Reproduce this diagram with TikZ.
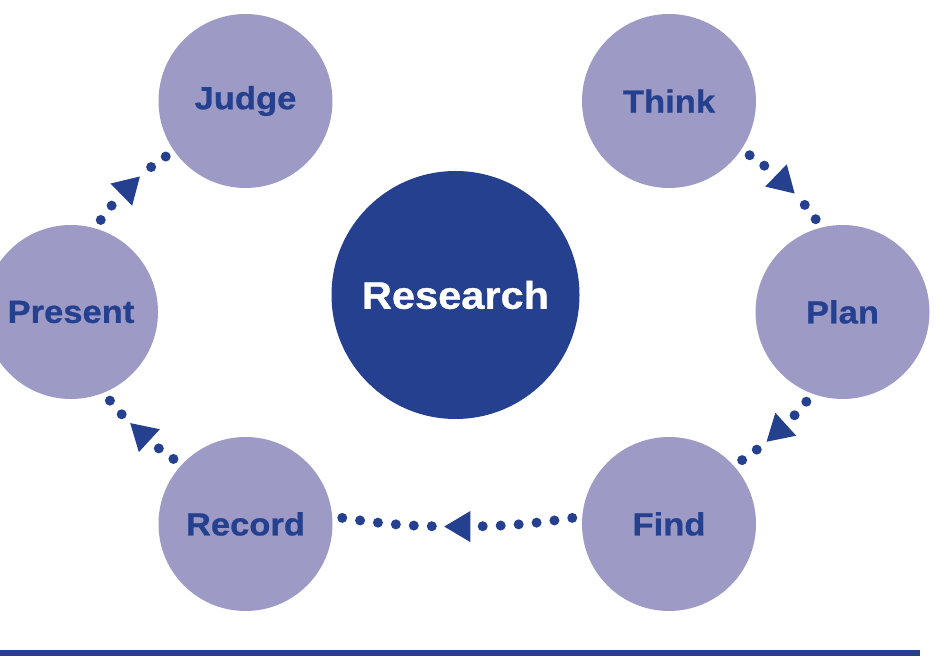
\documentclass[tikz,border=0pt]{standalone}
\usepackage{fontspec}
\newfontfamily\stagefont{Liberation Sans}[FakeStretch=1.08,FakeBold=0.8]
\usetikzlibrary{decorations.markings}

\begin{document}
\begin{tikzpicture}[x=1pt,y=1pt,
  stage/.style={circle,fill=stagefill,text=ink,minimum size=174pt,inner sep=0pt,
    font=\stagefont\bfseries\fontsize{32}{32}\selectfont},
  hub/.style={circle,fill=ink,text=white,minimum size=248pt,inner sep=0pt,
    font=\stagefont\bfseries\fontsize{38.5}{38.5}\selectfont},
  dotline/.style={ink,line width=10pt,line cap=round,dash pattern=on 0pt off 18pt,
    shorten <=10pt,shorten >=17pt},
  midtip/.style={postaction={decorate},decoration={markings,mark=at position 0.5 with
    {\fill[ink] (13pt,0) -- (-13pt,15.5pt) -- (-13pt,-15.5pt) -- cycle;}}}]
  \definecolor{ink}{HTML}{24408E}
  \definecolor{stagefill}{HTML}{9D9BC5}
  \useasboundingbox (0,0) rectangle (945,658);
  \node[hub] (research) at (455.5,363) {Research};
  \foreach \name/\lab/\x/\y in {judge/Judge/245.5/557,think/Think/669/557,
    present/Present/71/346,plan/Plan/842.5/346,record/Record/245.5/134,find/Find/669/134}
    \node[stage] (\name) at (\x,\y) {\lab};
  % cycle of stages, dots start at each circle and stop short of the middle tip
  \foreach \src/\sa/\tgt/\ta/\bend in {think/-34/plan/104/10,plan/250/find/42/8,
    find/175/record/5/8,record/137/present/292/8,present/74/judge/215/10}{
    \pgfmathsetmacro\halfbend{\bend/2}
    \path[midtip] (\src.\sa) to[bend left=\bend] coordinate[pos=.5] (mid) (\tgt.\ta);
    \draw[dotline] (\src.\sa) to[bend left=\halfbend] (mid);
    \draw[dotline] (\tgt.\ta) to[bend right=\halfbend] (mid);
  }
  \fill[ink] (0,2) rectangle (920,8);
\end{tikzpicture}
\end{document}
